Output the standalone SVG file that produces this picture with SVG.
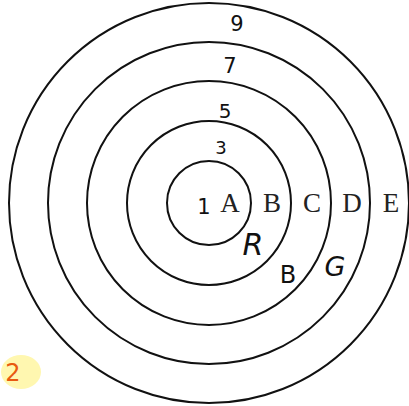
<svg xmlns="http://www.w3.org/2000/svg" width="409" height="406" viewBox="0 0 409 406">
<style>
.ring{fill:none;stroke:#111;stroke-width:2}
.lbl{font-family:"Liberation Serif",serif;font-size:27px;fill:#222;text-anchor:middle}
.hw{font-family:"DejaVu Sans",sans-serif;fill:#111;text-anchor:middle}
</style>
<rect width="409" height="406" fill="#fff"/>
<g id="rings">
<circle class="ring" cx="209" cy="203" r="200"/>
<circle class="ring" cx="209" cy="203" r="161"/>
<circle class="ring" cx="209" cy="203" r="122"/>
<circle class="ring" cx="209" cy="203" r="82"/>
<circle class="ring" cx="209" cy="203" r="42"/>
</g>
<g id="letters">
<text class="lbl" x="230" y="212">A</text>
<text class="lbl" x="272" y="212">B</text>
<text class="lbl" x="312" y="212">C</text>
<text class="lbl" x="352" y="212">D</text>
<text class="lbl" x="391" y="212">E</text>
</g>
<g id="numbers">
<text class="hw" x="237" y="31" font-size="21">9</text>
<text class="hw" x="230" y="73" font-size="21">7</text>
<text class="hw" x="225" y="118" font-size="20">5</text>
<text class="hw" x="221" y="154" font-size="18">3</text>
<text class="hw" x="204" y="214" font-size="21">1</text>
</g>
<g id="colors">
<text class="hw" x="253" y="255" font-size="30" font-style="italic">R</text>
<text class="hw" x="288" y="283" font-size="24">B</text>
<text class="hw" x="335" y="276" font-size="27" font-style="italic">G</text>
</g>
<g id="mark">
<ellipse cx="21" cy="372" rx="20" ry="17" fill="#fff7b0"/>
<text x="13" y="381" font-family="DejaVu Sans,sans-serif" font-size="24" fill="#e85a10" text-anchor="middle">2</text>
</g>
</svg>
